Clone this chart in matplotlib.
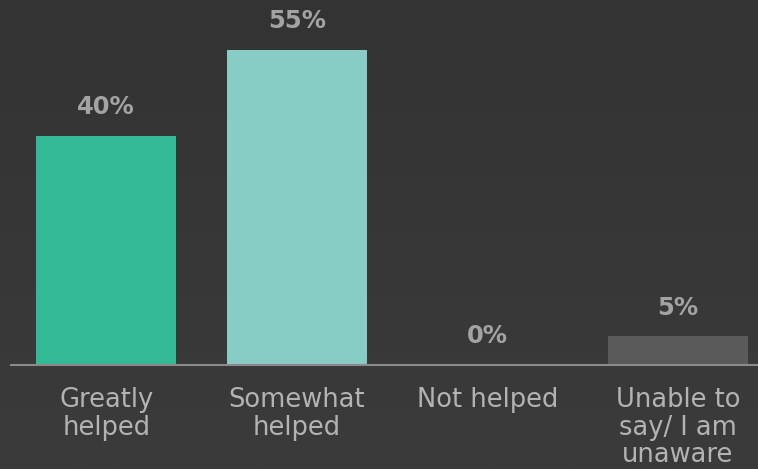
import numpy as np
import matplotlib
matplotlib.use("Agg")
import matplotlib.pyplot as plt
from matplotlib.colors import LinearSegmentedColormap

categories = ["Greatly\nhelped", "Somewhat\nhelped", "Not helped", "Unable to\nsay/ I am\nunaware"]
values = [40, 55, 0, 5]
value_labels = ["40%", "55%", "0%", "5%"]
colors = ["#33b996", "#88ccc6", "#5a5a5a", "#5a5a5a"]

fig = plt.figure(figsize=(7.58, 4.69), dpi=100)
fig.patch.set_facecolor("#363636")

# subtle background gradient
bg = fig.add_axes([0, 0, 1, 1], zorder=-10)
grad = np.linspace(0, 1, 256).reshape(-1, 1)
cmap = LinearSegmentedColormap.from_list("bg", ["#333333", "#3b3b3b"])
bg.imshow(grad, aspect="auto", cmap=cmap, extent=[0, 1, 0, 1], origin="upper")
bg.axis("off")

ax = fig.add_axes([11 / 758, 104 / 469, 762 / 758, 344 / 469])
ax.set_facecolor("none")
x = np.arange(len(categories))
ax.bar(x, values, width=0.735, color=colors, zorder=2)
ax.set_xlim(-0.5, 3.5)
ax.set_ylim(0, 60)

for xi, v, lab in zip(x, values, value_labels):
    ax.annotate(lab, (xi, v), xytext=(0, 12), textcoords="offset points",
                ha="center", va="bottom", fontsize=17.5, fontweight="bold",
                color="#a3a3a3")

for s in ["top", "right", "left"]:
    ax.spines[s].set_visible(False)
ax.spines["bottom"].set_color("#8a8a8a")
ax.spines["bottom"].set_linewidth(1.5)
ax.set_yticks([])
ax.set_xticks(x)
ax.set_xticklabels(categories, fontsize=18.5, color="#b3b3b3", linespacing=1.08)
ax.tick_params(axis="x", length=0, pad=16)

fig.savefig("out.png", dpi=100, facecolor=fig.get_facecolor())
